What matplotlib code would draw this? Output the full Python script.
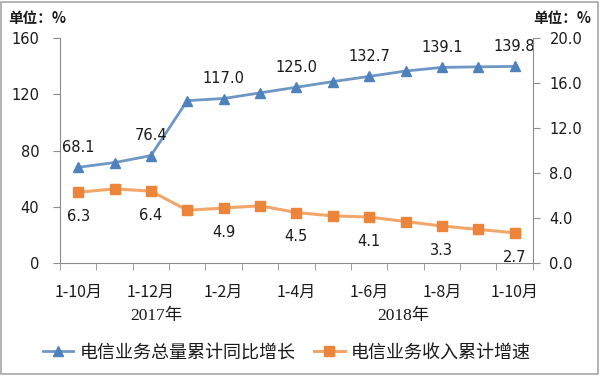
import matplotlib
matplotlib.use("Agg")
import matplotlib.pyplot as plt
from matplotlib.patches import Rectangle
import matplotlib.transforms as mtransforms

plt.rcParams['font.family'] = ['Noto Sans CJK SC', 'DejaVu Sans']

categories = ['1-10月', '1-11月', '1-12月', '1月', '1-2月', '1-3月', '1-4月',
              '1-5月', '1-6月', '1-7月', '1-8月', '1-9月', '1-10月']
volume_growth = [68.1, 71.5, 76.4, 115.5, 117.0, 121.0, 125.0, 129.0, 132.7, 136.5, 139.1, 139.5, 139.8]
revenue_growth = [6.3, 6.6, 6.4, 4.7, 4.9, 5.1, 4.5, 4.2, 4.1, 3.7, 3.3, 3.0, 2.7]
labeled_idx = [0, 2, 4, 6, 8, 10, 12]
years = ['2017年', '2018年']
year_pos = [2.15, 8.95]
series_names = ['电信业务总量累计同比增长', '电信业务收入累计增速']
left_ticks = [0, 40, 80, 120, 160]
right_ticks = [0.0, 4.0, 8.0, 12.0, 16.0, 20.0]

blue_line = '#6E97C6'
blue_mark = '#4F81BD'
orange_line = '#F3A66A'
orange_mark = '#EC8439'
spine_c = '#8C8C8C'
text_c = '#1a1a1a'

fig = plt.figure(figsize=(6.0, 3.76), dpi=100)
ax = fig.add_axes([0.1, 0.30, 0.788, 0.599])
ax2 = ax.twinx()

x = list(range(len(categories)))
l1, = ax.plot(x, volume_growth, color=blue_line, lw=2.0, marker='^', ms=7,
              mfc=blue_mark, mec=blue_mark, zorder=3)
l2, = ax2.plot(x, revenue_growth, color=orange_line, lw=2.2, marker='s', ms=7,
               mfc=orange_mark, mec=orange_mark, zorder=3)

ax.set_xlim(-0.5, len(categories) - 0.5)
ax.set_ylim(0, 160)
ax2.set_ylim(0, 20)
ax.set_yticks(left_ticks)
ax.set_yticklabels([str(v) for v in left_ticks], fontsize=10.5, color=text_c, family='DejaVu Sans')
ax2.set_yticks(right_ticks)
ax2.set_yticklabels([f'{v:.1f}' for v in right_ticks], fontsize=10.5, color=text_c, family='DejaVu Sans')

ax.set_xticks(labeled_idx)
ax.set_xticklabels([categories[i] for i in labeled_idx], fontsize=11.5, color=text_c)
ax.set_xticks([i - 0.5 for i in range(len(categories) + 1)], minor=True)
ax.tick_params(axis='x', which='major', length=0, pad=15)
ax.tick_params(axis='x', which='minor', length=5, color=spine_c, direction='out')
ax.tick_params(axis='y', length=5, color=spine_c, pad=10)
ax2.tick_params(axis='y', length=5, color=spine_c, pad=7)

for a in (ax, ax2):
    a.spines['top'].set_visible(False)
    for s in a.spines.values():
        s.set_color(spine_c)
ax.spines['right'].set_visible(False)
ax2.spines['left'].set_visible(False)
ax2.spines['bottom'].set_visible(False)

for i in labeled_idx:
    ax.annotate(f'{volume_growth[i]:.1f}', (i, volume_growth[i]), xytext=(0, 14.5),
                textcoords='offset points', ha='center', va='center',
                fontsize=10.5, color=text_c, family='DejaVu Sans')
    ax2.annotate(f'{revenue_growth[i]:.1f}', (i, revenue_growth[i]), xytext=(0, -17.5),
                 textcoords='offset points', ha='center', va='center',
                 fontsize=10.5, color=text_c, family='DejaVu Sans')

trans = mtransforms.blended_transform_factory(ax.transData, ax.transAxes)
for yl, xp in zip(years, year_pos):
    ax.text(xp, -0.235, yl, transform=trans, ha='center', va='center',
            fontsize=12.5, color=text_c, family=['Liberation Serif', 'Noto Sans CJK SC'])

fig.text(0.013, 0.952, '单位：%', fontsize=10.5, fontweight='bold', ha='left', va='center', color=text_c)
fig.text(0.985, 0.952, '单位：%', fontsize=10.5, fontweight='bold', ha='right', va='center', color=text_c)

fig.legend([l1, l2], series_names, loc='center', bbox_to_anchor=(0.478, 0.063), ncol=2,
           frameon=False, fontsize=13, handlelength=1.7, handletextpad=0.35,
           columnspacing=1.0, labelcolor=text_c)

fig.patches.append(Rectangle((0.002, 0.004), 0.994, 0.99, transform=fig.transFigure,
                             fill=False, edgecolor='#A6A6A6', lw=1.2))

fig.savefig('out.png', dpi=100)
